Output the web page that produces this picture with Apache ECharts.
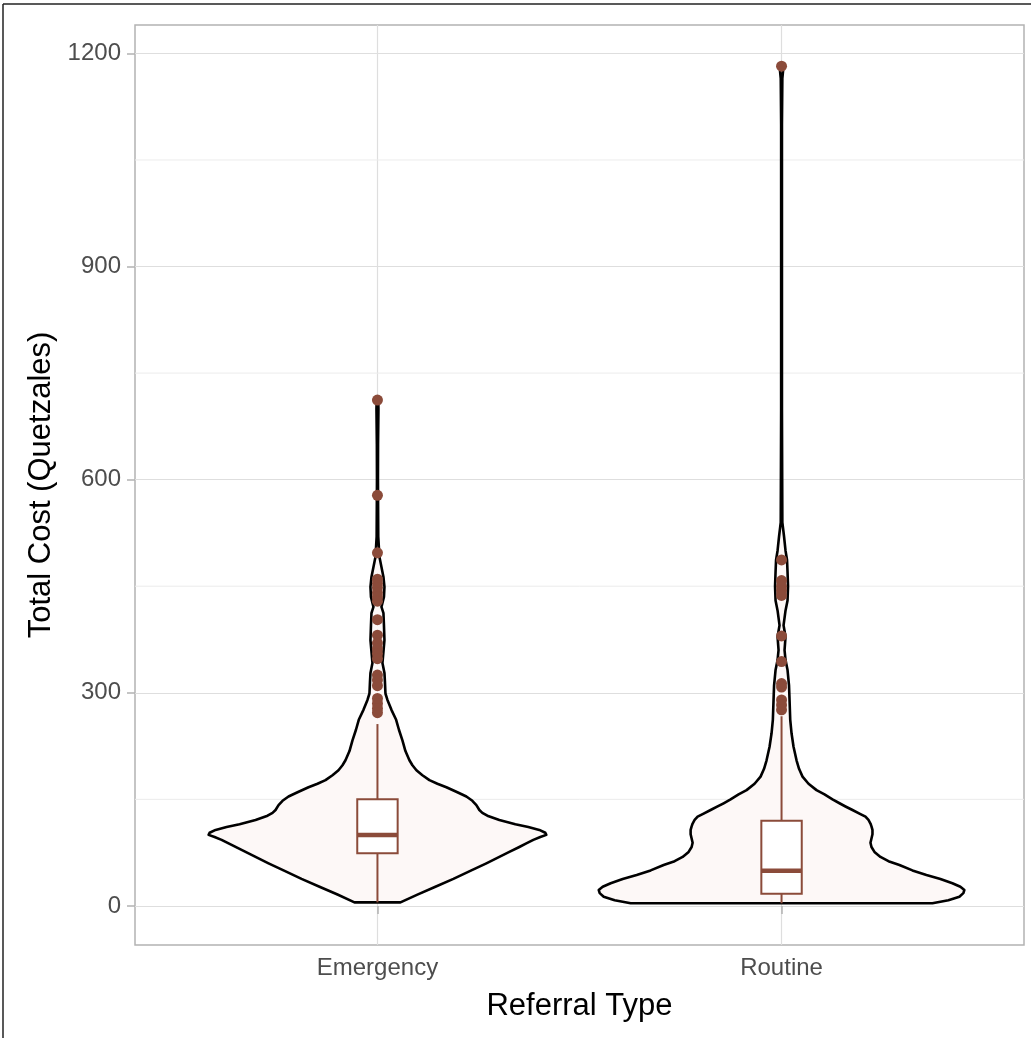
<!DOCTYPE html>
<html>
<head>
<meta charset="utf-8">
<script src="https://cdn.jsdelivr.net/npm/echarts@6/dist/echarts.min.js"></script>
<style>html,body{margin:0;padding:0;background:#fff}#chart{width:1031px;height:1038px}</style>
</head>
<body>
<div id="chart"></div>
<script>
// ---- data ----
const categories = ['Emergency', 'Routine'];
const yTicks = [0, 300, 600, 900, 1200];
const yMinorTicks = [150, 450, 750, 1050];

// violin outlines: cost values and relative density (half-width, 1 = widest violin)
const emergencyCost = [5, 16, 27, 38, 50, 60, 69, 76, 83, 88, 93, 97, 100, 103, 107, 111, 115, 121, 127, 131, 135, 142, 148, 154, 160, 167, 172, 177, 184, 191, 198, 205, 218, 233, 248, 262, 276, 290, 299, 315, 328, 342, 358, 374, 395, 412, 421, 435, 449, 463, 477, 491, 520, 600, 650, 700, 712];
const emergencyDensity = [23, 40, 58, 76, 94, 109, 122, 132, 142, 149, 156, 163, 169, 168, 162, 151, 138, 122, 110, 105, 102, 99, 95, 89, 80, 69, 60, 52, 45, 39, 35, 32, 28, 25, 21.5, 18.7, 14, 10, 8, 7.5, 7, 5, 6, 7, 6.5, 6, 4, 6.5, 7, 6, 4, 2, 0.8, 0.5, 0.6, 1, 0.8].map(v => v / 182);
const routineCost = [3.7, 8, 13, 18, 22.5, 27, 32, 38, 43.6, 50, 57.7, 63, 69, 76, 83, 89, 95, 101, 107, 112, 116, 121, 125.6, 130, 135, 140, 144.5, 150, 157, 163, 172, 182, 193, 205, 224, 243, 262, 290, 310, 332, 346, 360, 379, 395, 416, 430, 450, 470, 487, 500, 520, 540, 700, 900, 1100, 1165, 1175, 1182];
const routineDensity = [151, 167, 178, 182, 183, 179, 171, 159, 145, 131, 118, 107, 99, 93, 90, 89, 90, 91, 91, 90, 89, 87, 84, 78, 71, 64, 58, 51, 43, 35, 27, 21, 17.5, 15, 12, 10, 8.7, 8, 7.5, 6, 4, 3, 4, 2, 4, 6, 6.5, 6, 5.5, 4, 2.5, 0.8, 0.4, 0.4, 0.4, 0.8, 1.5, 1].map(v => v / 182);

// box plot statistics: [lower whisker, Q1, median, Q3, upper whisker]
const emergencyBox = [5, 74, 100, 150, 256];
const routineBox = [3.7, 17, 49.6, 120, 267];

// outliers
const emergencyOutliers = [712, 578, 497, 460, 454, 448, 441, 435, 429, 403, 381, 370, 362, 355, 348, 325, 318, 310, 292, 285, 278, 272];
const routineOutliers = [1182, 487, 458, 450, 444, 437, 380, 344, 313, 308, 290, 283, 276];

// ---- build ----
const violinCost = [emergencyCost, routineCost];
const violinDensity = [emergencyDensity, routineDensity];
const boxes = [emergencyBox, routineBox];
const outlierSets = [emergencyOutliers, routineOutliers];
const HALF_MAX = 0.45;
const BOX_HALF = 0.05;
const ACCENT = '#8B4B3A';

const chart = echarts.init(document.getElementById('chart'), null, {renderer: 'canvas'});

const outlierData = [];
outlierSets.forEach((arr, i) => arr.forEach(v => outlierData.push([i + 1, v])));

const option = {
  animation: false,
  backgroundColor: '#ffffff',
  grid: {left: 135, right: 7, top: 25, bottom: 93, show: true, borderColor: '#b3b3b3', borderWidth: 1.5, backgroundColor: 'transparent'},
  xAxis: {
    type: 'value', min: 0.4, max: 2.6,
    name: 'Referral Type', nameLocation: 'middle', nameGap: 46,
    nameTextStyle: {fontFamily: 'Liberation Sans', fontSize: 31, color: '#000'},
    axisLine: {show: false},
    axisTick: {show: true, length: 8, lineStyle: {color: '#b3b3b3', width: 1.5}, customValues: [1, 2]},
    axisLabel: {customValues: [1, 2], formatter: v => categories[Math.round(v) - 1], fontFamily: 'Liberation Sans', fontSize: 24, color: '#4d4d4d', margin: 11},
    splitLine: {show: true, lineStyle: {color: '#dedede', width: 1.2}}
  },
  yAxis: {
    type: 'value', min: -55, max: 1240,
    name: 'Total Cost (Quetzales)', nameLocation: 'middle', nameGap: 66, nameRotate: 90,
    nameTextStyle: {fontFamily: 'Liberation Sans', fontSize: 31, color: '#000'},
    axisLine: {show: false},
    axisTick: {show: true, length: 8, lineStyle: {color: '#b3b3b3', width: 1.5}, customValues: yTicks},
    axisLabel: {customValues: yTicks, formatter: v => String(v), fontFamily: 'Liberation Sans', fontSize: 24, color: '#4d4d4d', margin: 14},
    splitLine: {show: true, lineStyle: {color: '#dedede', width: 1.2}}
  },
  graphic: [
    {type: 'line', shape: {x1: 3, y1: 4, x2: 1031, y2: 4}, style: {stroke: '#222', lineWidth: 1.5}},
    {type: 'line', shape: {x1: 3, y1: 4, x2: 3, y2: 1038}, style: {stroke: '#222', lineWidth: 1.5}}
  ],
  series: [
    {
      // minor gridlines, beneath the violins
      type: 'custom', z: 0, silent: true,
      data: yMinorTicks.map(v => [v]),
      renderItem: function (params, api) {
        const v = api.value(0);
        const a = api.coord([0.4, v]), b = api.coord([2.6, v]);
        return {type: 'line', shape: {x1: a[0], y1: a[1], x2: b[0], y2: b[1]}, style: {stroke: '#ececec', lineWidth: 1}};
      }
    },
    {
      type: 'custom', z: 2, silent: true,
      data: [[1], [2]],
      renderItem: function (params, api) {
        const i = params.dataIndex;
        const c = api.value(0);
        const cost = violinCost[i], dens = violinDensity[i];
        const pts = [];
        for (let k = 0; k < cost.length; k++) pts.push(api.coord([c + dens[k] * HALF_MAX, cost[k]]));
        for (let k = cost.length - 1; k >= 0; k--) pts.push(api.coord([c - dens[k] * HALF_MAX, cost[k]]));
        return {type: 'polygon', shape: {points: pts}, style: {fill: '#fdf8f7', stroke: '#000', lineWidth: 2.6, lineJoin: 'round'}};
      }
    },
    {
      type: 'custom', z: 3, silent: true,
      data: [[1], [2]],
      renderItem: function (params, api) {
        const i = params.dataIndex;
        const c = api.value(0);
        const b = boxes[i];
        const lw = api.coord([c, b[0]]), q1l = api.coord([c - BOX_HALF, b[1]]), q3r = api.coord([c + BOX_HALF, b[3]]);
        const q1 = api.coord([c, b[1]]), q3 = api.coord([c, b[3]]), uw = api.coord([c, b[4]]);
        const ml = api.coord([c - BOX_HALF, b[2]]), mr = api.coord([c + BOX_HALF, b[2]]);
        const st = {stroke: ACCENT, lineWidth: 2};
        return {type: 'group', children: [
          {type: 'line', shape: {x1: lw[0], y1: lw[1], x2: q1[0], y2: q1[1]}, style: st},
          {type: 'line', shape: {x1: q3[0], y1: q3[1], x2: uw[0], y2: uw[1]}, style: st},
          {type: 'rect', shape: {x: q1l[0], y: q3r[1], width: q3r[0] - q1l[0], height: q1l[1] - q3r[1]}, style: {fill: '#fff', stroke: ACCENT, lineWidth: 2}},
          {type: 'line', shape: {x1: ml[0], y1: ml[1], x2: mr[0], y2: mr[1]}, style: {stroke: ACCENT, lineWidth: 4.5}}
        ]};
      }
    },
    {
      type: 'scatter', z: 4, silent: true,
      data: outlierData, symbol: 'circle', symbolSize: 11,
      itemStyle: {color: ACCENT, opacity: 1}
    }
  ]
};
chart.setOption(option);
</script>
</body>
</html>
